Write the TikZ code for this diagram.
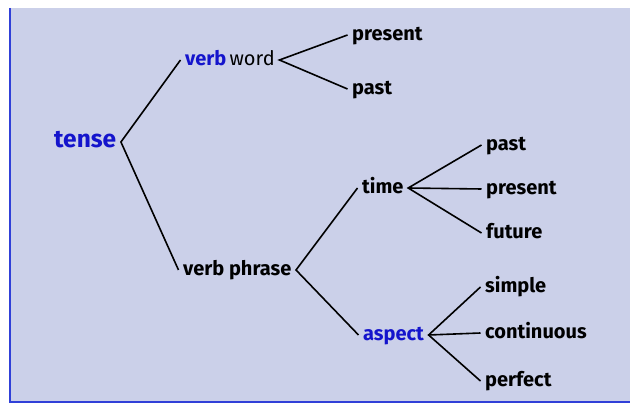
\documentclass[tikz,border=0pt]{standalone}
\usepackage{fontspec}
\setmainfont{Fira Sans}
\definecolor{bgblue}{HTML}{CBD0E9}
\definecolor{txtblue}{HTML}{1414CC}
\definecolor{rule}{HTML}{3040D8}
\begin{document}
\fontsize{20}{20}\selectfont
\begin{tikzpicture}[x=1pt,y=-1pt,
  lbl/.style={inner xsep=4.5pt,inner ysep=0pt,font=\fontsize{20}{20}\selectfont\bfseries,text=black},
  big/.style={lbl,font=\fontsize{24.5}{24.5}\selectfont\bfseries,text=txtblue},
  blu/.style={lbl,text=txtblue},
  con/.style={line width=1.6pt,black}]
\useasboundingbox (0,0) rectangle (630,403);
\fill[white] (0,0) rectangle (630,403);
\fill[bgblue] (10,8) rectangle (630,402);
\draw[rule,line width=1.2pt] (10,8) -- (10,402) -- (630,402);
% nodes
\node[big,anchor=mid west] (tense) at (49.5,142) {tense};
\node[lbl,anchor=mid west] (vw) at (180.5,60) {\textcolor{txtblue}{verb}\,\mdseries word};
\node[lbl,anchor=mid west] (pres1) at (347.5,35) {present};
\node[lbl,anchor=mid west] (past1) at (347.5,89) {past};
\node[lbl,anchor=mid west] (vp) at (178.5,270) {verb phrase};
\node[lbl,anchor=mid west] (time) at (357.5,188) {time};
\node[lbl,anchor=mid west] (past2) at (481.5,145) {past};
\node[lbl,anchor=mid west] (pres2) at (481.5,189) {present};
\node[lbl,anchor=mid west] (fut) at (481.5,233) {future};
\node[blu,anchor=mid west] (asp) at (358.5,335) {aspect};
\node[lbl,anchor=mid west] (simp) at (480.5,287) {simple};
\node[lbl,anchor=mid west] (cont) at (480.5,333) {continuous};
\node[lbl,anchor=mid west] (perf) at (480.5,381) {perfect};
% connectors
\draw[con] (vw.mid west) -- (tense.mid east) -- (vp.mid west);
\draw[con] (pres1.mid west) -- (vw.mid east) -- (past1.mid west);
\draw[con] (time.mid west) -- (vp.mid east) -- (asp.mid west);
\draw[con] (past2.mid west) -- (time.mid east) -- (fut.mid west);
\draw[con] (time.mid east) -- (pres2.mid west);
\draw[con] (simp.mid west) -- (asp.mid east) -- (perf.mid west);
\draw[con] (asp.mid east) -- (cont.mid west);
\end{tikzpicture}
\end{document}
